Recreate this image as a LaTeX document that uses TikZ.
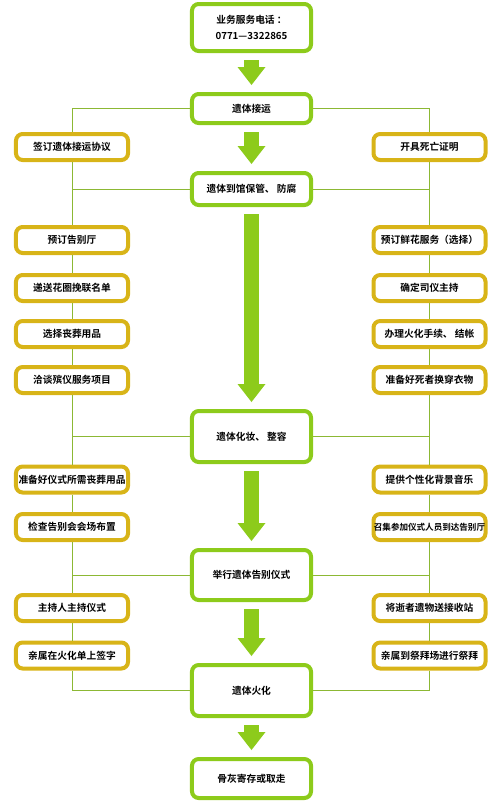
\documentclass[tikz,border=0pt]{standalone}
\usepackage{fontspec}
\setmainfont{Noto Sans CJK SC}[BoldFont={Noto Sans CJK SC Bold}]
\usepackage{tikz}
\usetikzlibrary{arrows.meta,positioning}
\definecolor{leafgreen}{RGB}{141,203,27}
\definecolor{goldline}{RGB}{216,180,24}
\definecolor{olivelink}{RGB}{140,184,52}

\begin{document}
\begin{tikzpicture}[x=0.03cm,y=-0.03cm,
  mainbox/.style={draw=leafgreen,line width=0.12cm,rounded corners=0.2cm,fill=white,minimum width=3.57cm,
    inner sep=0pt,align=center,font=\fontsize{8.3}{13.5}\selectfont\bfseries},
  sidebox/.style={draw=goldline,line width=0.12cm,rounded corners=0.2cm,fill=white,minimum width=3.36cm,
    minimum height=0.78cm,inner sep=0pt,font=\fontsize{8.3}{10}\selectfont\bfseries},
  bigarrow/.style={draw=leafgreen,line width=0.45cm,-{Triangle[width=0.84cm,length=0.54cm,line width=0pt]},
    shorten <=0.21cm,shorten >=0.21cm},
  link/.style={draw=olivelink,line width=0.8pt}]
  \useasboundingbox (0,0) rectangle (500,807);
  % main column
  \node[mainbox,minimum height=1.41cm] (B1) at (251.5,27.5) {业务服务电话 ：\\0771—3322865};
  \node[mainbox,minimum height=0.87cm] (B2) at (251.5,108.5) {遗体接运};
  \node[mainbox,minimum height=0.96cm] (B3) at (251.5,189) {遗体到馆保管、 防腐};
  \node[mainbox,minimum height=1.53cm] (B4) at (251.5,436.5) {遗体化妆、 整容};
  \node[mainbox,minimum height=1.5cm] (B5) at (251.5,575) {举行遗体告别仪式};
  \node[mainbox,minimum height=1.53cm] (B6) at (251.5,690.5) {遗体火化};
  \node[mainbox,minimum height=1.17cm] (B7) at (251.5,778.5) {骨灰寄存或取走};
  % left column
  \node[sidebox] (L1) at (72,147) {签订遗体接运协议};
  \node[sidebox] (L2) at (72,240) {预订告别厅};
  \node[sidebox] (L3) at (72,288) {递送花圈挽联名单};
  \node[sidebox] (L4) at (72,334) {选择丧葬用品};
  \node[sidebox] (L5) at (72,380) {洽谈殡仪服务项目};
  \node[sidebox] (L6) at (72,479.5) {准备好仪式所需丧葬用品};
  \node[sidebox] (L7) at (72,527) {检查告别会会场布置};
  \node[sidebox] (L8) at (72,608) {主持人主持仪式};
  \node[sidebox] (L9) at (72,655.5) {亲属在火化单上签字};
  % right column
  \node[sidebox] (R1) at (429.5,147) {开具死亡证明};
  \node[sidebox] (R2) at (429.5,240) {预订鲜花服务（选择）};
  \node[sidebox] (R3) at (429.5,288) {确定司仪主持};
  \node[sidebox] (R4) at (429.5,334) {办理火化手续、 结帐};
  \node[sidebox] (R5) at (429.5,380) {准备好死者换穿衣物};
  \node[sidebox] (R6) at (429.5,479.5) {提供个性化背景音乐};
  \node[sidebox,font=\fontsize{7.3}{10}\selectfont\bfseries] (R7) at (429.5,527) {召集参加仪式人员到达告别厅};
  \node[sidebox] (R8) at (429.5,608) {将逝者遗物送接收站};
  \node[sidebox] (R9) at (429.5,655.5) {亲属到祭拜场进行祭拜};
  % thin links
  \draw[link] (B2.west) -| (L1.north);
  \draw[link] (B2.east) -| (R1.north);
  \foreach \a/\b in {1/2,2/3,3/4,4/5,5/6,6/7,7/8,8/9} {
    \draw[link] (L\a.south) -- (L\b.north);
    \draw[link] (R\a.south) -- (R\b.north);
  }
  \draw[link] (B3.west) -- (B3.west -| L1);
  \draw[link] (B3.east) -- (B3.east -| R1);
  \draw[link] (B4.west) -- (B4.west -| L5);
  \draw[link] (B4.east) -- (B4.east -| R5);
  \draw[link] (B5.west) -- (B5.west -| L7);
  \draw[link] (B5.east) -- (B5.east -| R7);
  \draw[link] (L9.south) |- (B6.west);
  \draw[link] (R9.south) |- (B6.east);
  % big arrows
  \draw[bigarrow] (B1) -- (B2);
  \draw[bigarrow] (B2) -- (B3);
  \draw[bigarrow] (B3) -- (B4);
  \draw[bigarrow] (B4) -- (B5);
  \draw[bigarrow] (B5) -- (B6);
  \draw[bigarrow] (B6) -- (B7);
\end{tikzpicture}
\end{document}
